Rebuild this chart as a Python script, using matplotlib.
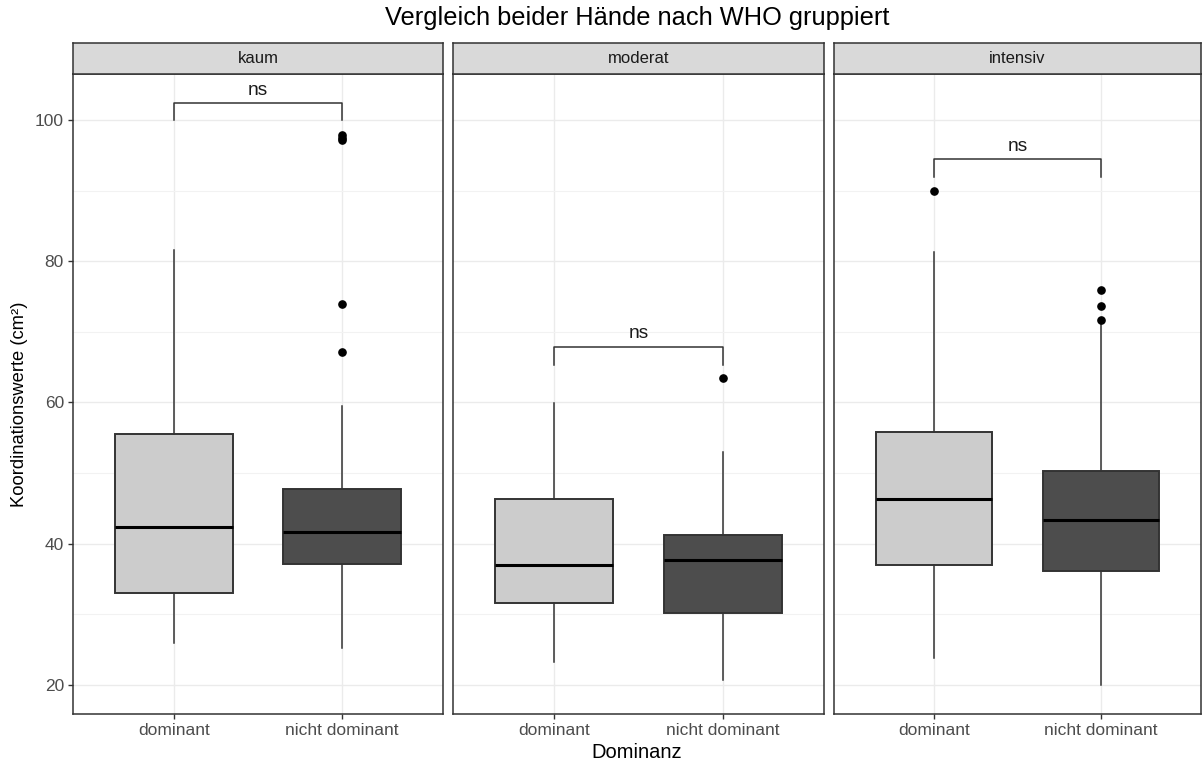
import matplotlib
matplotlib.use("Agg")
import matplotlib.pyplot as plt

plt.rcParams['font.family'] = ['Liberation Sans', 'DejaVu Sans']

# Data
groups = ["kaum", "moderat", "intensiv"]
hands = ["dominant", "nicht dominant"]

# per group: [dominant, nicht dominant]
q1 = [[33.0, 37.2], [31.6, 30.2], [37.0, 36.2]]
med = [[42.4, 41.6], [37.05, 37.65], [46.4, 43.4]]
q3 = [[55.5, 47.7], [46.3, 41.3], [55.8, 50.3]]
whislo = [[25.9, 25.3], [23.2, 20.7], [23.8, 20.0]]
whishi = [[81.6, 59.5], [59.9, 53.0], [81.35, 71.1]]
fliers = [[[], [97.2, 97.5, 97.9, 73.9, 67.15]],
          [[], [63.4]],
          [[90.0], [75.9, 73.7, 71.7]]]

# significance brackets
bracket_top = [102.4, 67.9, 94.5]
bracket_leg = [100.0, 65.3, 91.9]
bracket_label = ["ns", "ns", "ns"]

box_colors = ["#CCCCCC", "#4D4D4D"]

W, H = 1203, 764
fig = plt.figure(figsize=(W / 100, H / 100), dpi=100)

panel_left = [73, 453, 834]
panel_width = [370, 371, 367]
panel_top, panel_bottom = 74, 714
strip_top = 43

for g in range(3):
    x0 = panel_left[g] / W
    w = panel_width[g] / W
    ax = fig.add_axes([x0, 1 - panel_bottom / H, w, (panel_bottom - panel_top) / H])
    sax = fig.add_axes([x0, 1 - panel_top / H, w, (panel_top - strip_top) / H])

    stats = []
    for h in range(2):
        stats.append(dict(med=med[g][h], q1=q1[g][h], q3=q3[g][h],
                          whislo=whislo[g][h], whishi=whishi[g][h],
                          fliers=fliers[g][h]))
    bp = ax.bxp(stats, positions=[1, 2], widths=0.7, patch_artist=True,
                showcaps=False,
                boxprops=dict(edgecolor="#333333", linewidth=1.4),
                medianprops=dict(color="black", linewidth=2.2),
                whiskerprops=dict(color="#333333", linewidth=1.1),
                flierprops=dict(marker="o", markerfacecolor="black",
                                markeredgecolor="black", markersize=5.2),
                zorder=3)
    for patch, c in zip(bp["boxes"], box_colors):
        patch.set_facecolor(c)

    # bracket
    ax.plot([1, 1, 2, 2], [bracket_leg[g], bracket_top[g], bracket_top[g], bracket_leg[g]],
            color="#333333", linewidth=1.1, zorder=4)
    ax.text(1.5, bracket_top[g] + 0.6, bracket_label[g], ha="center", va="bottom",
            fontsize=13.8, color="#1A1A1A")

    ax.set_xlim(0.4, 2.6)
    ax.set_ylim(15.9, 106.5)
    ax.set_xticks([1, 2])
    ax.set_xticklabels(hands)
    ax.set_yticks([20, 40, 60, 80, 100])
    ax.set_yticks([30, 50, 70, 90], minor=True)
    ax.set_axisbelow(True)
    ax.grid(True, which="major", color="#EBEBEB", linewidth=1.0)
    ax.grid(True, which="minor", axis="y", color="#F2F2F2", linewidth=0.8)
    ax.tick_params(axis="both", which="major", length=3.5, color="#333333",
                   labelsize=12.5, labelcolor="#4D4D4D", width=1.0, pad=3)
    ax.tick_params(axis="y", which="minor", length=0)
    if g > 0:
        ax.tick_params(axis="y", which="major", left=False, labelleft=False)
    for sp in ax.spines.values():
        sp.set_color("#333333")
        sp.set_linewidth(1.1)

    sax.set_facecolor("#D9D9D9")
    sax.set_xticks([])
    sax.set_yticks([])
    for sp in sax.spines.values():
        sp.set_color("#333333")
        sp.set_linewidth(1.1)
    sax.text(0.5, 0.5, groups[g], ha="center", va="center", fontsize=12,
             color="#1A1A1A", transform=sax.transAxes)

fig.text(637 / W, 1 - 18 / H, "Vergleich beider Hände nach WHO gruppiert",
         ha="center", va="center", fontsize=18.3, color="black")
fig.text(637 / W, 1 - 752 / H, "Dominanz", ha="center", va="center",
         fontsize=14.5, color="black")
fig.text(20 / W, 1 - 404 / H, "Koordinationswerte (cm²)", ha="center", va="center",
         rotation=90, fontsize=13.2, color="black")

fig.savefig("out.png", dpi=100)
